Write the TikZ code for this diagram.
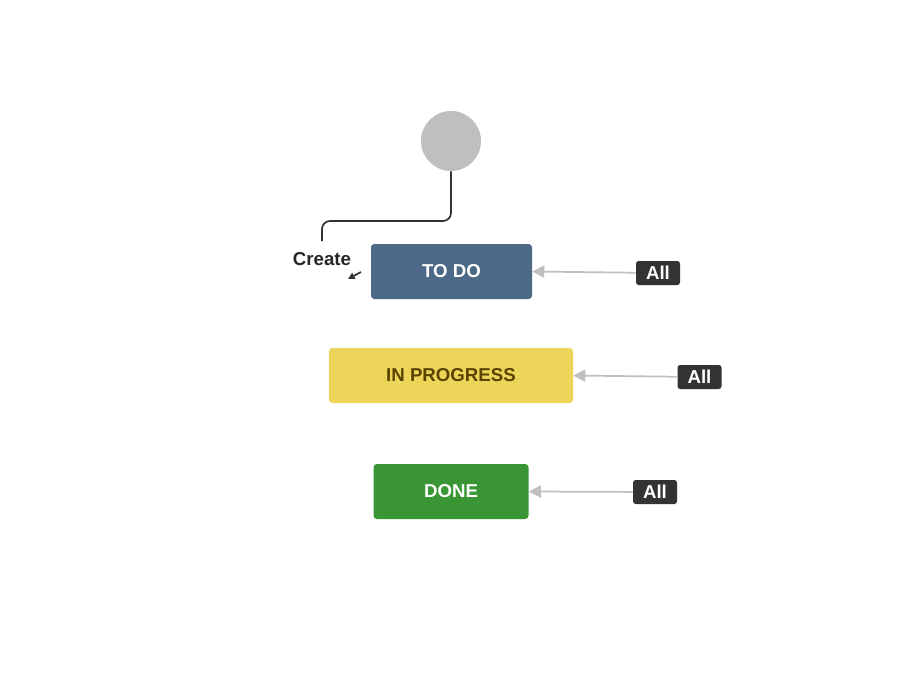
\documentclass[tikz,border=0pt]{standalone}
\usepackage{fontspec}
\setmainfont{Liberation Sans}
\usetikzlibrary{arrows.meta}
\begin{document}
\begin{tikzpicture}[x=0.75pt,y=-0.75pt,
  status/.style={rounded corners=2.5pt,inner sep=0pt,font=\bfseries\fontsize{14}{16}\selectfont},
  alllbl/.style={fill=black!80,text=white,rounded corners=2pt,inner sep=0pt,minimum width=33pt,minimum height=18pt,font=\bfseries\fontsize{14}{16}\selectfont},
  conn/.style={draw=black!25,line width=1.3pt,-{Triangle[length=9pt,width=9pt]}}]
\useasboundingbox (0,0) rectangle (918,682);
\definecolor{todo}{HTML}{4C6A87}
\definecolor{prog}{HTML}{EDD55A}
\definecolor{progt}{HTML}{594300}
\definecolor{done}{HTML}{3A9634}
\node[circle,fill=black!25,minimum size=45pt,inner sep=0pt] (start) at (451,141) {};
\node[status,fill=todo,text=white,minimum width=120.75pt,minimum height=41.25pt] (todo) at (451.5,271.5) {TO DO};
\node[status,fill=prog,text=progt,minimum width=183pt,minimum height=41.25pt] (prog) at (451,375.5) {IN PROGRESS};
\node[status,fill=done,text=white,minimum width=116.25pt,minimum height=41.25pt] (done) at (451,491.5) {DONE};
\node[alllbl] (a1) at (658,273) {All};
\node[alllbl] (a2) at (699.5,377) {All};
\node[alllbl] (a3) at (655,492) {All};
\draw[conn] (a1) -- (todo.east);
\draw[conn] (a2) -- (prog.east);
\draw[conn] (a3) -- (done.east);
\coordinate (c1) at (322,241);
\draw[black!80,line width=1.3pt,rounded corners=6pt] (start.south) -- (451,221) -- (322,221) -- (c1);
\node[font=\bfseries\fontsize{14}{16}\selectfont,text=black!85] (create) at (322,259) {Create};
\coordinate (t1) at (348,279);
\coordinate (t2) at (361,272);
\draw[black!80,line width=1.3pt,-{Triangle[length=5pt,width=5pt]}] (t2) -- (t1);
\end{tikzpicture}
\end{document}
